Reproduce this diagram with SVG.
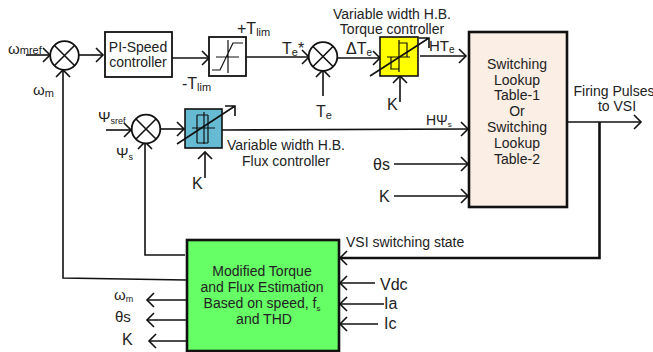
<svg xmlns="http://www.w3.org/2000/svg" width="653" height="352" viewBox="0 0 653 352">
<style>
text{font-family:"Liberation Sans",Arial,sans-serif;fill:#222;font-size:14px}
.c{text-anchor:middle}
.b{font-size:16px}
.m{font-size:15px}
.t{fill:none;stroke:#111;stroke-width:1.2}
.a{fill:none;stroke:#111;stroke-width:1.6}
#connectors path{fill:none;stroke:#111;stroke-width:1.6}
</style>
<defs>
<marker id="ar" markerUnits="userSpaceOnUse" markerWidth="12" markerHeight="16" refX="9" refY="7" orient="auto" overflow="visible"><path d="M2 0L9 7L2 14" fill="none" stroke="#111" stroke-width="1.6"/></marker>
<g id="sum"><circle r="14.3" fill="#fff" stroke="#111" stroke-width="1.8"/><path d="M-10-10L10 10M-10 10L10-10" stroke="#111" stroke-width="1.6"/></g>
</defs>
<g id="connectors">
<path d="M26 55H50" marker-end="url(#ar)"/>
<path d="M79 55H103" marker-end="url(#ar)"/>
<path d="M172 58H209" marker-end="url(#ar)"/>
<path d="M246 57H309" marker-end="url(#ar)"/>
<path d="M323 96V70" marker-end="url(#ar)"/>
<path d="M338 58H380" marker-end="url(#ar)"/>
<path d="M400 102V76" marker-end="url(#ar)"/>
<path d="M420 56H466" marker-end="url(#ar)"/>
<path d="M106 130H131" marker-end="url(#ar)"/>
<path d="M160 129H184" marker-end="url(#ar)"/>
<path d="M205 178V152" marker-end="url(#ar)"/>
<path d="M222 130L468 129" marker-end="url(#ar)"/>
<path d="M394 164H468" marker-end="url(#ar)"/>
<path d="M394 196H468" marker-end="url(#ar)"/>
<path d="M567 122H641" marker-end="url(#ar)"/>
<path d="M599.500 122V258H340" marker-end="url(#ar)" style="stroke-width:2.6"/>
<path d="M375 283H340" marker-end="url(#ar)"/>
<path d="M384 304H340" marker-end="url(#ar)"/>
<path d="M378 324H340" marker-end="url(#ar)"/>
<path d="M185 255H145V142" marker-end="url(#ar)"/>
<path d="M186 280L63 278V70" marker-end="url(#ar)"/>
<path d="M187 300H147" marker-end="url(#ar)"/>
<path d="M187 320H147" marker-end="url(#ar)"/>
<path d="M187 341H149" marker-end="url(#ar)"/>
</g>
<g id="sum1"><use href="#sum" x="64.500" y="55.500"/></g>
<g id="pi-speed"><rect x="105" y="32" width="67" height="45" fill="#fff" stroke="#111" stroke-width="1.8"/>
<text x="138" y="52" class="c">PI-Speed</text><text x="138" y="67" class="c">controller</text></g>
<g id="limiter"><rect x="209" y="37" width="37" height="39" fill="#fff" stroke="#111" stroke-width="1.8"/>
<path d="M212 70H220L233 43H243M216 57H239M228 40V73" class="t"/></g>
<g id="sum2"><use href="#sum" x="323" y="56.500"/></g>
<g id="sum3"><use href="#sum" x="146" y="129"/></g>
<g id="flux-controller"><rect x="185" y="109" width="37" height="39" fill="#66bbd2" stroke="#111" stroke-width="1.6"/>
<path d="M197 115V143M208 115V143M192 128H215M197 115H208M197 143H208M204 112V144" class="t"/>
<path d="M177 144L235 106M225 106H235V116" class="a"/></g>
<g id="torque-controller"><rect x="380" y="37" width="38" height="39" fill="#ff0" stroke="#111" stroke-width="1.6"/>
<path d="M399 43H407V57M391 57V69H399M399 40V72M387 57H410" class="t"/>
<path d="M370 76L429 38M419 38H429V48" class="a"/></g>
<g id="lookup"><rect x="469" y="32" width="98" height="175" fill="#fbeee4" stroke="#111" stroke-width="2.600"/>
<text x="517" y="69" class="c">Switching</text><text x="517" y="85" class="c">Lookup</text><text x="517" y="100" class="c">Table-1</text><text x="517" y="116" class="c">Or</text><text x="517" y="132" class="c">Switching</text><text x="517" y="148" class="c">Lookup</text><text x="517" y="164" class="c">Table-2</text></g>
<g id="estimation"><rect x="187" y="240" width="152" height="111" fill="#66ff66" stroke="#111" stroke-width="2.600"/>
<text x="262" y="276" class="c">Modified Torque</text><text x="262" y="292" class="c">and Flux Estimation</text><text x="262" y="308" class="c">Based on speed, f<tspan font-size="8" dy="3">s</tspan></text><text x="264" y="324" class="c">and THD</text></g>
<g id="labels">
<text x="8" y="54" class="m">ω<tspan font-size="11" dy="0">mref</tspan></text>
<text x="33" y="95" class="m">ω<tspan font-size="11" dy="2">m</tspan></text>
<text x="237" y="34" class="b">+T<tspan font-size="11" dy="2">lim</tspan></text>
<text x="182" y="89" class="b">-T<tspan font-size="11" dy="2">lim</tspan></text>
<text x="282" y="54" class="b">T<tspan font-size="11" dy="2">e</tspan><tspan dy="-2">*</tspan></text>
<text x="316" y="117" class="b">T<tspan font-size="11" dy="2">e</tspan></text>
<text x="98" y="122" class="m">Ψ<tspan font-size="9" dy="2">sref</tspan></text>
<text x="116" y="158" class="m">Ψ<tspan font-size="9" dy="2">s</tspan></text>
<text x="192" y="189" class="b">K</text>
<text x="286" y="150" class="c">Variable width H.B.</text>
<text x="286" y="166" class="c">Flux controller</text>
<text x="392" y="19" class="c">Variable width H.B.</text>
<text x="392" y="34" class="c">Torque controller</text>
<text x="346" y="54" class="b">ΔT<tspan font-size="10" dy="2">e</tspan></text>
<text x="429" y="51" class="m">HT<tspan font-size="10" dy="2">e</tspan></text>
<text x="387" y="110" class="b">K</text>
<text x="426" y="125" style="font-size:14px">HΨ<tspan font-size="8" dy="2">s</tspan></text>
<text x="373" y="170" class="b">θs</text>
<text x="379" y="202" class="b">K</text>
<text x="614" y="96" class="c">Firing Pulses</text>
<text x="617" y="111" class="c">to VSI</text>
<text x="346" y="247">VSI switching state</text>
<text x="380" y="290" class="b">Vdc</text>
<text x="384" y="309" class="b">Ia</text>
<text x="384" y="329" class="b">Ic</text>
<text x="114" y="300" class="m">ω<tspan font-size="9" dy="2">m</tspan></text>
<text x="115" y="322" class="m">θs</text>
<text x="122" y="345" class="b">K</text>
</g>
</svg>
